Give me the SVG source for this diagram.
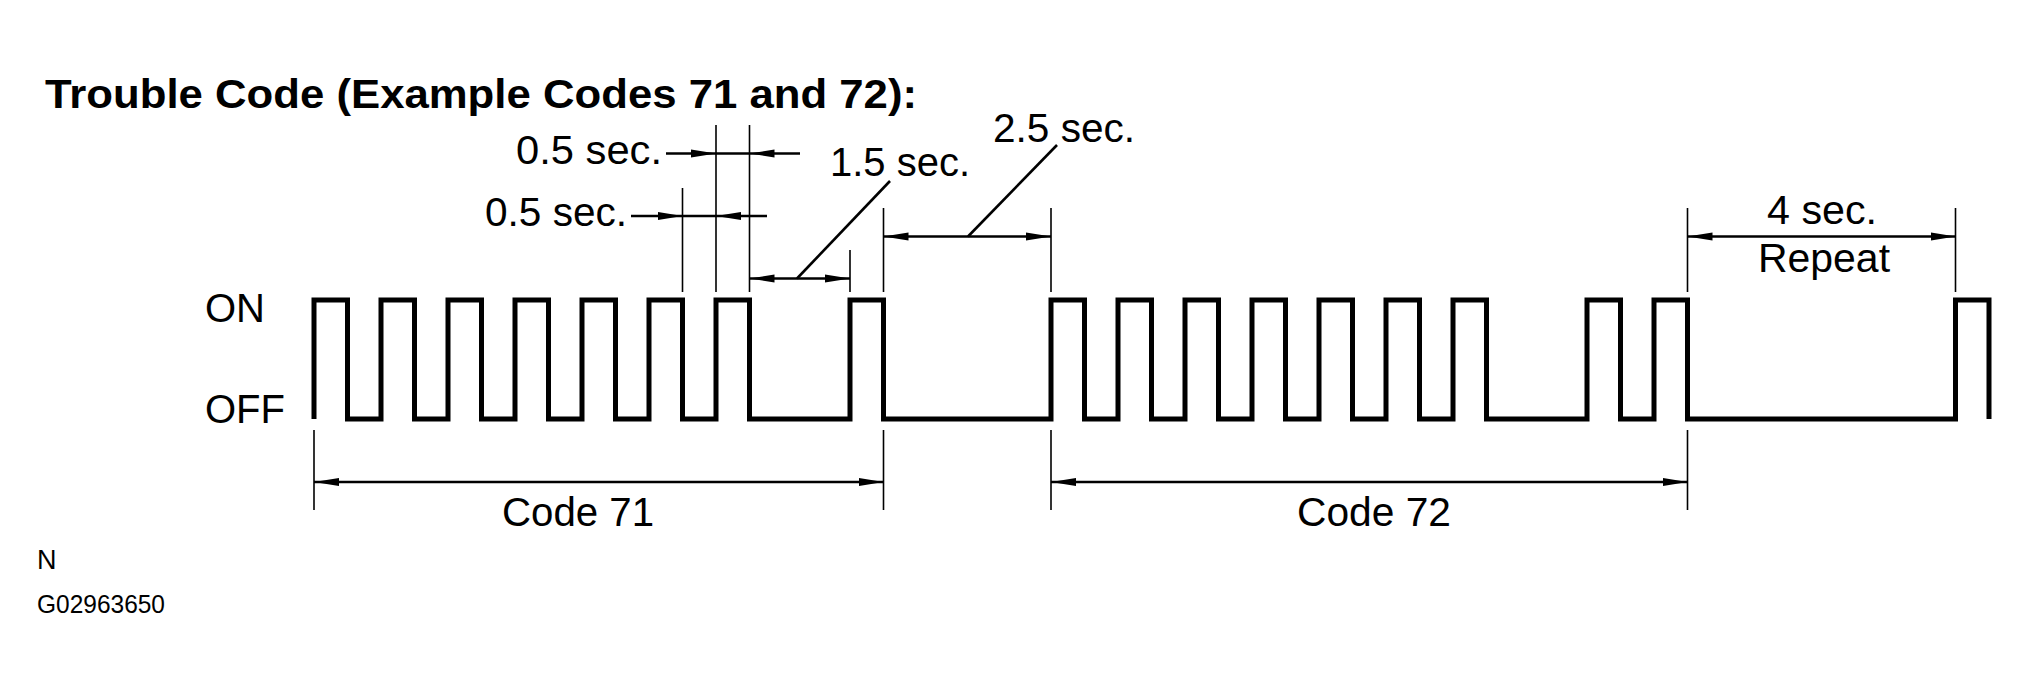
<svg xmlns="http://www.w3.org/2000/svg" width="2030" height="689" viewBox="0 0 2030 689">
<style>
  .t { font-family: "Liberation Sans", Arial, sans-serif; font-size: 40px; fill: #000; }
  .title { font-family: "Liberation Sans", Arial, sans-serif; font-size: 40px; font-weight: bold; fill: #000; }
  .sig { fill: none; stroke: #000; stroke-width: 5; stroke-linejoin: miter; stroke-linecap: butt; }
  .ext { fill: none; stroke: #000; stroke-width: 1.6; }
  .dim { fill: none; stroke: #000; stroke-width: 2.6; }
</style>
<defs>
  <marker id="arr" markerUnits="userSpaceOnUse" markerWidth="26" markerHeight="10" refX="25" refY="5" orient="auto-start-reverse" viewBox="0 0 26 10">
    <path d="M0,1 L25,5 L0,9 Z" fill="#000"/>
  </marker>
</defs>
<rect width="2030" height="689" fill="#fff"/>

<text id="title" class="title" x="45" y="108" textLength="872" lengthAdjust="spacingAndGlyphs">Trouble Code (Example Codes 71 and 72):</text>

<g id="labels">
  <text class="t" x="205" y="322">ON</text>
  <text class="t" x="205" y="423">OFF</text>
</g>

<g id="signal">
  <path class="sig" d="M314,419 V300 H347.5 V419 H381 V300 H414.5 V419 H448 V300 H481.5 V419 H515 V300 H548.5 V419 H582 V300 H615.5 V419 H649 V300 H682.5 V419 H716 V300 H749.5 V419 H850 V300 H883.5 V419 H1051 V300 H1084.5 V419 H1118 V300 H1151.5 V419 H1185 V300 H1218.5 V419 H1252 V300 H1285.5 V419 H1319 V300 H1352.5 V419 H1386 V300 H1419.5 V419 H1453 V300 H1486.5 V419 H1587 V300 H1620.5 V419 H1654 V300 H1687.5 V419 H1955.5 V300 H1989 V419"/>
</g>

<g id="connectors">
  <!-- extension lines above -->
  <line class="ext" x1="716" y1="125" x2="716" y2="292"/>
  <line class="ext" x1="749.5" y1="125" x2="749.5" y2="292"/>
  <line class="ext" x1="682.5" y1="188" x2="682.5" y2="292"/>
  <line class="ext" x1="850" y1="250" x2="850" y2="292"/>
  <line class="ext" x1="883.5" y1="208" x2="883.5" y2="292"/>
  <line class="ext" x1="1051" y1="208" x2="1051" y2="292"/>
  <line class="ext" x1="1687.5" y1="208" x2="1687.5" y2="292"/>
  <line class="ext" x1="1955.5" y1="208" x2="1955.5" y2="292"/>
  <!-- extension lines below -->
  <line class="ext" x1="314" y1="430" x2="314" y2="510"/>
  <line class="ext" x1="883.5" y1="430" x2="883.5" y2="510"/>
  <line class="ext" x1="1051" y1="430" x2="1051" y2="510"/>
  <line class="ext" x1="1687.5" y1="430" x2="1687.5" y2="510"/>

  <!-- upper 0.5 sec -->
  <line class="dim" x1="666" y1="153.5" x2="716" y2="153.5" marker-end="url(#arr)"/>
  <line class="dim" x1="716" y1="153.5" x2="749.5" y2="153.5"/>
  <line class="dim" x1="800" y1="153.5" x2="749.5" y2="153.5" marker-end="url(#arr)"/>
  <!-- lower 0.5 sec -->
  <line class="dim" x1="631" y1="216" x2="682.5" y2="216" marker-end="url(#arr)"/>
  <line class="dim" x1="682.5" y1="216" x2="716" y2="216"/>
  <line class="dim" x1="767" y1="216" x2="716" y2="216" marker-end="url(#arr)"/>
  <!-- 1.5 sec -->
  <line class="dim" x1="749.5" y1="278.5" x2="850" y2="278.5" marker-start="url(#arr)" marker-end="url(#arr)"/>
  <line class="dim" x1="797" y1="278.5" x2="890" y2="181"/>
  <!-- 2.5 sec -->
  <line class="dim" x1="883.5" y1="236.5" x2="1051" y2="236.5" marker-start="url(#arr)" marker-end="url(#arr)"/>
  <line class="dim" x1="968" y1="236.5" x2="1057" y2="145"/>
  <!-- 4 sec -->
  <line class="dim" x1="1687.5" y1="236.5" x2="1955.5" y2="236.5" marker-start="url(#arr)" marker-end="url(#arr)"/>
  <!-- codes -->
  <line class="dim" x1="314" y1="482" x2="883.5" y2="482" marker-start="url(#arr)" marker-end="url(#arr)"/>
  <line class="dim" x1="1051" y1="482" x2="1687.5" y2="482" marker-start="url(#arr)" marker-end="url(#arr)"/>
</g>

<g id="dim-labels">
  <text class="t" x="516" y="164" textLength="146" lengthAdjust="spacingAndGlyphs">0.5 sec.</text>
  <text class="t" x="485" y="226" textLength="142" lengthAdjust="spacingAndGlyphs">0.5 sec.</text>
  <text class="t" x="830" y="176" textLength="140" lengthAdjust="spacingAndGlyphs">1.5 sec.</text>
  <text class="t" x="993" y="142" textLength="142" lengthAdjust="spacingAndGlyphs">2.5 sec.</text>
  <text class="t" x="1767" y="224" textLength="110" lengthAdjust="spacingAndGlyphs">4 sec.</text>
  <text class="t" x="1758" y="272" textLength="132" lengthAdjust="spacingAndGlyphs">Repeat</text>
  <text class="t" x="502" y="526" style="font-size:41px" textLength="152" lengthAdjust="spacingAndGlyphs">Code 71</text>
  <text class="t" x="1297" y="526" style="font-size:41px" textLength="154" lengthAdjust="spacingAndGlyphs">Code 72</text>
</g>

<g id="footer">
  <text class="t" x="37" y="569" style="font-size:27px">N</text>
  <text class="t" x="37" y="613" style="font-size:25px" textLength="128" lengthAdjust="spacingAndGlyphs">G02963650</text>
</g>
</svg>
